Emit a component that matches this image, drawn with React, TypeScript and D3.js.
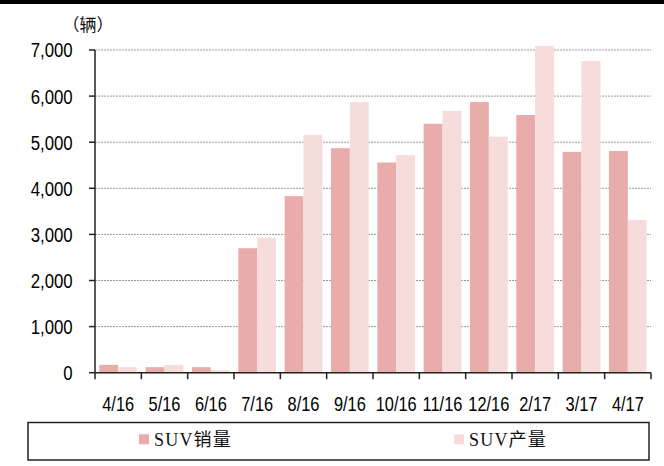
import React from "react";
import * as d3 from "d3";

const width = 664;
const height = 466;

const months = ["4/16", "5/16", "6/16", "7/16", "8/16", "9/16", "10/16", "11/16", "12/16", "2/17", "3/17", "4/17"];
const sales = [170, 120, 120, 2700, 3830, 4870, 4560, 5400, 5870, 5590, 4790, 4810];
const production = [120, 170, 55, 2920, 5160, 5870, 4720, 5680, 5120, 7090, 6760, 3310];
const yTicks = [0, 1000, 2000, 3000, 4000, 5000, 6000, 7000];
const seriesNames = ["SUV销量", "SUV产量"];
const colors = ["#E8ADAB", "#F7DCDC"];

const left = 95;
const right = 651;
const top = 50;
const bottom = 372.7;

export default function App() {
  const x = d3.scaleBand().domain(months).range([left, right]).padding(0);
  const bw = x.bandwidth();
  const x1 = d3.scaleBand().domain(seriesNames).range([4.3, bw - 4.3]).padding(0);
  const y = d3.scaleLinear().domain([0, 7000]).range([bottom, top]);
  const fmt = d3.format(",");
  const series = [sales, production];
  const axisFont = "'Liberation Sans', Arial, sans-serif";

  return (
    <svg width={width} height={height} style={{ position: "absolute", left: 0, top: 0, background: "#fff" }}>
      <rect x={0} y={0} width={width} height={4} fill="#000" />
      <text x={88} y={31} textAnchor="middle" fontSize={17} fontFamily="'Noto Sans CJK SC', sans-serif" fill="#111">（辆）</text>

      {/* gridlines */}
      {yTicks.filter(t => t > 0).map(t => (
        <line key={t} x1={left} x2={right} y1={y(t)} y2={y(t)} stroke="#999" strokeWidth={1} strokeDasharray="2 1" />
      ))}

      {/* bars */}
      {series.map((vals, si) => vals.map((v, i) => (
        <rect key={si + "-" + i} x={x(months[i])! + x1(seriesNames[si])!} y={y(v)} width={x1.bandwidth()} height={bottom - y(v)} fill={colors[si]} />
      )))}

      {/* y axis */}
      <line x1={left} x2={left} y1={top} y2={bottom} stroke="#222" strokeWidth={1.5} />
      {yTicks.map(t => (
        <g key={t}>
          <line x1={left - 6} x2={left} y1={y(t)} y2={y(t)} stroke="#222" strokeWidth={1.5} />
          <text transform={`translate(72.7,${y(t) + 7.4}) scale(0.8,1)`} textAnchor="end" fontSize={21} fontFamily={axisFont} fill="#000">{fmt(t)}</text>
        </g>
      ))}

      {/* x axis */}
      <line x1={left} x2={right} y1={bottom} y2={bottom} stroke="#222" strokeWidth={1.5} />
      {[...months.map(m => x(m)!), right].map((px, i) => (
        <line key={i} x1={px} x2={px} y1={bottom} y2={bottom + 6.5} stroke="#222" strokeWidth={1.5} />
      ))}
      {months.map(m => (
        <text key={m} transform={`translate(${x(m)! + bw / 2},${410.7}) scale(0.82,1)`} textAnchor="middle" fontSize={20} fontFamily={axisFont} fill="#000">{m}</text>
      ))}

      {/* legend */}
      <rect x={28} y={422.5} width={621} height={37.5} fill="none" stroke="#222" strokeWidth={1.5} />
      {seriesNames.map((name, i) => {
        const sx = i === 0 ? 139 : 454;
        return (
          <g key={name}>
            <rect x={sx} y={434.3} width={10} height={10} fill={colors[i]} />
            <text x={sx + 15} y={446} fontSize={18} fontFamily="'Liberation Serif', 'Noto Sans CJK SC', serif" letterSpacing={1.2} fill="#111">{name}</text>
          </g>
        );
      })}
    </svg>
  );
}
